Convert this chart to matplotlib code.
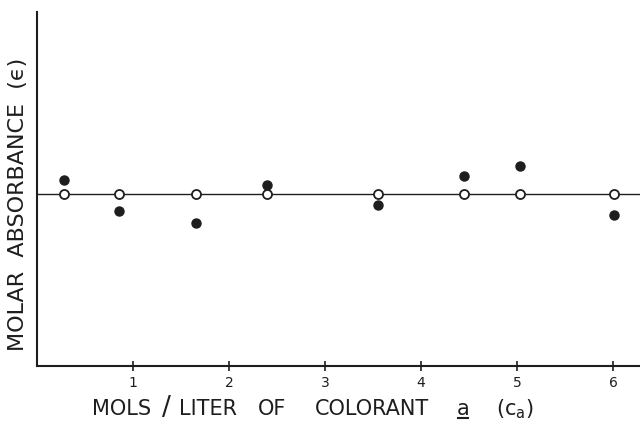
import numpy as np
import matplotlib
matplotlib.use('Agg')
import matplotlib.pyplot as plt
from matplotlib.lines import Line2D

# concentration of colorant a (mols/liter)
conc = [0.28, 0.85, 1.66, 2.39, 3.55, 4.45, 5.03, 6.01]
# measured molar absorbance (filled) and fitted constant value (open), arbitrary units
eps_measured = [1.08, 0.90, 0.83, 1.05, 0.935, 1.105, 1.165, 0.88]
eps_const = [1.0, 1.0, 1.0, 1.0, 1.0, 1.0, 1.0, 1.0]
xticks = [1, 2, 3, 4, 5, 6]

ink = '#1e1e1e'
W, H = 640, 424
plt.rcParams['font.family'] = ['DejaVu Sans']
plt.rcParams['mathtext.fontset'] = 'dejavusans'

fig = plt.figure(figsize=(6.4, 4.24), dpi=100)
ax = fig.add_axes([0.058, 0.137, 0.942, 0.835])

ax.axhline(eps_const[0], color=ink, lw=1.0, zorder=1)
ax.plot(conc, eps_measured, 'o', color=ink, ms=6.5, mec=ink, zorder=3)
ax.plot(conc, eps_const, 'o', color='white', ms=6.5, mec=ink, mew=1.3, zorder=3)

ax.set_xlim(0, 6.28)
ax.set_ylim(0, 2.06)
ax.set_xticks(xticks)
ax.set_xticklabels([str(t) for t in xticks], fontsize=10, color=ink)
ax.set_yticks([])
ax.tick_params(axis='x', direction='inout', length=7, width=1.2, color=ink, pad=4)
for s in ['top', 'right']:
    ax.spines[s].set_visible(False)
for s in ['left', 'bottom']:
    ax.spines[s].set_linewidth(1.5)
    ax.spines[s].set_color(ink)

# x label, word by word (lettering in the original is widely spaced)
base = 1 - 415 / H
pieces = [('MOLS', 122, 15), ('/', 166, 19), ('LITER', 208, 15),
          ('OF', 272, 15), ('COLORANT', 372, 15), ('a', 463, 15),
          ('(c$_\\mathrm{a}$)', 515, 15)]
texts = []
for s, px, fs in pieces:
    texts.append(fig.text(px / W, base, s, ha='center', va='baseline',
                          fontsize=fs, color=ink))

fig.text(18 / W, 1 - 204 / H, 'MOLAR  ABSORBANCE  (ϵ)', rotation=90,
         ha='center', va='center', fontsize=16, color=ink)

# underline the colorant letter
fig.canvas.draw()
bb = texts[5].get_window_extent(fig.canvas.get_renderer())
fig.add_artist(Line2D([bb.x0 + 1, bb.x1 - 1], [bb.y0 + 1, bb.y0 + 1], color=ink, lw=1.5,
                      transform=None))

fig.savefig('out.png', dpi=100, facecolor='white')
